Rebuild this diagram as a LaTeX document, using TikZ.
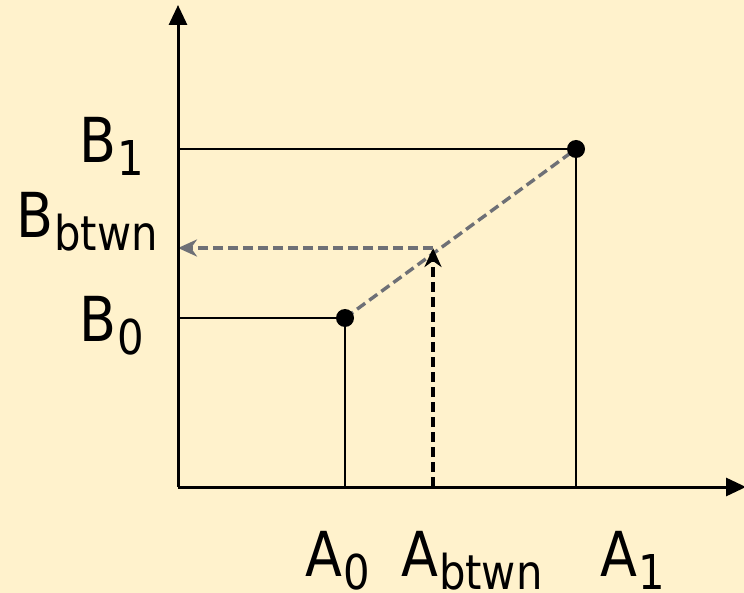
\documentclass[tikz,border=0pt]{standalone}
\usepackage{fontspec}
\setmainfont{DejaVu Sans}[FakeStretch=0.87]
\usetikzlibrary{arrows.meta}
\definecolor{bgc}{RGB}{255,242,204}
\definecolor{dgray}{RGB}{110,112,118}
\newcommand{\lbl}[2]{\fontsize{62}{62}\selectfont #1\hspace{1pt}\raisebox{-13pt}{\fontsize{48}{48}\selectfont #2}}
\begin{document}
\begin{tikzpicture}[x=1pt,y=-1pt,
  axis/.style={line width=3pt,-{Triangle[length=20pt,width=18pt]}},
  thin/.style={line width=2pt},
  gdash/.style={dgray,line width=3.4pt,dash pattern=on 10pt off 5pt},
  gdasharrow/.style={gdash,-{Stealth[length=19pt,width=17pt,inset=6pt]}},
  kdasharrow/.style={black,line width=3.4pt,dash pattern=on 10pt off 5pt,-{Stealth[length=19pt,width=17pt,inset=6pt]}},
  dot/.style={circle,fill=black,inner sep=0pt,minimum size=18pt},
  lab/.style={inner sep=0pt,anchor=base west}]
\fill[bgc] (0,0) rectangle (744,593);
\useasboundingbox (0,0) rectangle (744,593);
\coordinate (O) at (178,487);
\coordinate (ytop) at (178,5);
\coordinate (xend) at (746,487);
\coordinate (P0) at (345,318);
\coordinate (P1) at (576,149);
\coordinate (Ab) at (433,487);
\coordinate (Pb) at (433,248);
\coordinate (Bb) at (178,248);
\coordinate (B0) at (178,318);
\coordinate (B1) at (178,149);
\coordinate (A0) at (345,487);
\coordinate (A1) at (576,487);
\draw[thin] (B1) -- (P1) -- (A1);
\draw[thin] (B0) -- (P0) -- (A0);
\draw[gdash] (P0) -- (P1);
\draw[kdasharrow] (Ab) -- (Pb);
\draw[gdasharrow] (Pb) -- (Bb);
\draw[axis] (O) -- (ytop);
\draw[axis] (O) -- (xend);
\node[dot] (d0) at (P0) {};
\node[dot] (d1) at (P1) {};
\node[lab] (lB1) at (79,163) {\lbl{B}{1}};
\node[lab] (lBb) at (16,238) {\lbl{B}{btwn}};
\node[lab] (lB0) at (79,342) {\lbl{B}{0}};
\node[lab] (lA0) at (305,576) {\lbl{A}{0}};
\node[lab] (lAb) at (401,576) {\lbl{A}{btwn}};
\node[lab] (lA1) at (600,576) {\lbl{A}{1}};
\end{tikzpicture}
\end{document}
